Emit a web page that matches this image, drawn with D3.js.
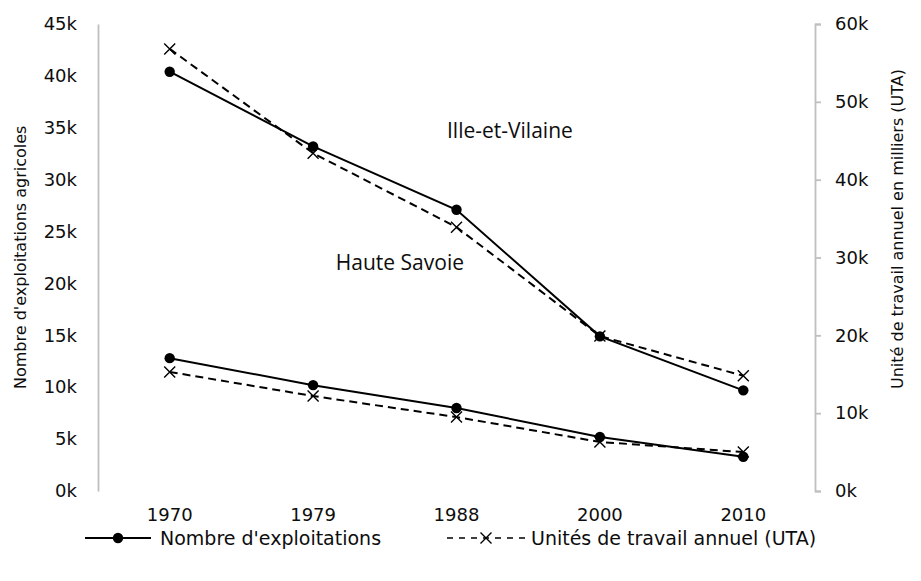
<!DOCTYPE html>
<html>
<head>
<meta charset="utf-8">
<script src="https://cdn.jsdelivr.net/npm/d3@7"></script>
<style>
  html, body { margin: 0; padding: 0; background: #fff; }
  svg { display: block; }
  .tick text { font-family: "DejaVu Sans", sans-serif; }
</style>
</head>
<body>
<svg id="chart" width="921" height="581"></svg>
<script>
// Recensements agricoles
const years = ["1970", "1979", "1988", "2000", "2010"];

// Nombre d'exploitations (axe gauche)
const exploitIlleEtVilaine = [40400, 33200, 27100, 14900, 9700];
const exploitHauteSavoie   = [12800, 10200, 8000, 5200, 3300];

// Unités de travail annuel (axe droit)
const utaIlleEtVilaine = [56800, 43400, 33900, 19900, 14800];
const utaHauteSavoie   = [15300, 12200, 9500, 6300, 5000];

const leftTicks  = [0, 5000, 10000, 15000, 20000, 25000, 30000, 35000, 40000, 45000];
const rightTicks = [0, 10000, 20000, 30000, 40000, 50000, 60000];

const svg = d3.select("#chart");
const m = { left: 98, right: 815, top: 24, bottom: 491 };
const ink = "#0d0d0d";
const font = "'DejaVu Sans', sans-serif";
const axisColor = "#bfbfbf";

const x = d3.scaleBand().domain(years).range([m.left, m.right]);
const yL = d3.scaleLinear().domain([0, 45000]).range([m.bottom, m.top]);
const yR = d3.scaleLinear().domain([0, 60000]).range([m.bottom, m.top]);
const kfmt = d => (d / 1000) + "k";

// Axe gauche
const gL = svg.append("g").attr("transform", `translate(${m.left},0)`)
  .call(d3.axisLeft(yL).tickValues(leftTicks).tickFormat(kfmt).tickSize(0).tickPadding(21));
gL.select(".domain").attr("stroke", axisColor).attr("stroke-width", 1.8);
gL.selectAll(".tick text").attr("font-size", 18).attr("fill", ink);

// Axe droit
const gR = svg.append("g").attr("transform", `translate(${m.right},0)`)
  .call(d3.axisRight(yR).tickValues(rightTicks).tickFormat(kfmt).tickSize(6).tickSizeOuter(6).tickPadding(14));
gR.select(".domain").attr("stroke", axisColor).attr("stroke-width", 1.8);
gR.selectAll(".tick line").attr("stroke", axisColor).attr("stroke-width", 1.8);
gR.selectAll(".tick text").attr("font-size", 18).attr("fill", ink);

// Axe des années
const gX = svg.append("g").attr("transform", `translate(0,${m.bottom})`)
  .call(d3.axisBottom(x).tickSize(0).tickPadding(17));
gX.select(".domain").remove();
gX.selectAll(".tick text").attr("font-size", 18).attr("fill", ink);

// Titres des axes
svg.append("text")
  .attr("transform", "translate(26,389) rotate(-90)")
  .attr("text-anchor", "start")
  .attr("font-family", font).attr("font-size", 16).attr("fill", ink)
  .text("Nombre d'exploitations agricoles");
svg.append("text")
  .attr("transform", "translate(903,389) rotate(-90)")
  .attr("text-anchor", "start")
  .attr("font-family", font).attr("font-size", 16).attr("fill", ink)
  .text("Unité de travail annuel en milliers (UTA)");

const cx = d => x(d) + x.bandwidth() / 2;

function drawSeries(values, yScale, dashed, marker) {
  const pts = years.map((yr, i) => [cx(yr), yScale(values[i])]);
  svg.append("path")
    .attr("d", d3.line()(pts))
    .attr("fill", "none")
    .attr("stroke", "#000")
    .attr("stroke-width", 2)
    .attr("stroke-dasharray", dashed ? "8,5" : null);
  pts.forEach(p => marker(svg, p[0], p[1]));
}

function dot(g, px, py) {
  g.append("circle").attr("cx", px).attr("cy", py).attr("r", 5.2).attr("fill", "#000");
}
function cross(g, px, py) {
  const s = 5.5;
  g.append("path")
    .attr("d", `M${px - s},${py - s}L${px + s},${py + s}M${px - s},${py + s}L${px + s},${py - s}`)
    .attr("stroke", "#000").attr("stroke-width", 1.4).attr("fill", "none");
}

drawSeries(utaIlleEtVilaine, yR, true, cross);
drawSeries(utaHauteSavoie, yR, true, cross);
drawSeries(exploitIlleEtVilaine, yL, false, dot);
drawSeries(exploitHauteSavoie, yL, false, dot);

// Étiquettes des départements
svg.append("text").attr("x", 447).attr("y", 138).attr("text-anchor", "start")
  .attr("font-family", "'Open Sans', sans-serif").attr("font-size", 21).attr("fill", ink)
  .text("Ille-et-Vilaine");
svg.append("text").attr("x", 464).attr("y", 270).attr("text-anchor", "end")
  .attr("font-family", "'Open Sans', sans-serif").attr("font-size", 21).attr("fill", ink)
  .text("Haute Savoie");

// Légende
const ly = 538;
const leg = svg.append("g");
leg.append("line").attr("x1", 85).attr("x2", 151).attr("y1", ly).attr("y2", ly)
  .attr("stroke", "#000").attr("stroke-width", 2);
dot(leg, 118, ly);
leg.append("text").attr("x", 160).attr("y", ly + 7)
  .attr("font-family", font).attr("font-size", 19).attr("fill", ink)
  .text("Nombre d'exploitations");
leg.append("line").attr("x1", 447).attr("x2", 525).attr("y1", ly).attr("y2", ly)
  .attr("stroke", "#000").attr("stroke-width", 1.6).attr("stroke-dasharray", "6,6");
cross(leg, 486, ly);
leg.append("text").attr("x", 531).attr("y", ly + 7)
  .attr("font-family", font).attr("font-size", 19).attr("fill", ink)
  .text("Unités de travail annuel (UTA)");
</script>
</body>
</html>
